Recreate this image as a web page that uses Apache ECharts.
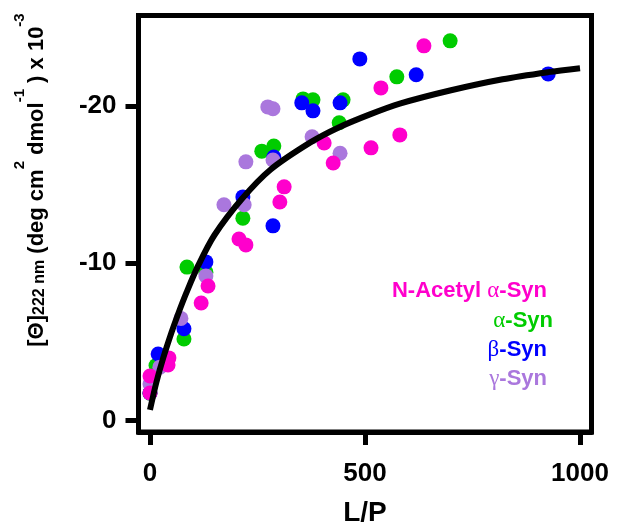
<!DOCTYPE html>
<html>
<head>
<meta charset="utf-8">
<script src="https://cdn.jsdelivr.net/npm/echarts@6/dist/echarts.min.js"></script>
<style>
html,body{margin:0;padding:0;background:#fff;}
#c{width:617px;height:525px;}
</style>
</head>
<body>
<div id="c"></div>
<script>
// ---- data ----
const xTicks = [0, 500, 1000];
const yTicks = [0, -10, -20];

const acetylLP    = [0, 0, 44, 42, 119, 135, 207, 223, 302, 312, 405, 426, 514, 537, 581, 637];
const acetylTheta = [-2.84, -1.76, -3.99, -3.54, -7.48, -8.56, -11.55, -11.17, -13.9, -14.86, -17.65, -16.38, -17.34, -21.15, -18.16, -23.82];

const alphaLP    = [0, 14, 79, 86, 130, 216, 260, 288, 356, 379, 449, 440, 574, 698];
const alphaTheta = [-1.75, -3.5, -5.19, -9.76, -9.44, -12.87, -17.13, -17.46, -20.45, -20.39, -20.39, -18.93, -21.85, -24.14];

const betaLP    = [0, 19, 79, 130, 216, 286, 288, 353, 379, 442, 488, 619, 926];
const betaTheta = [-1.76, -4.24, -5.84, -10.09, -14.22, -12.38, -16.75, -20.2, -19.69, -20.2, -22.99, -21.98, -22.04];

const gammaLP    = [0, 23, 72, 130, 172, 219, 223, 274, 286, 286, 377, 442];
const gammaTheta = [-2.33, -3.4, -6.5, -9.2, -13.72, -13.72, -16.45, -19.94, -19.82, -16.57, -18.04, -17.0];

// fitted curve, points
const curveLP    = [0, 15, 31, 50, 65, 85, 112, 150, 214, 280, 374, 440, 510, 581, 700, 820, 926, 1000];
const curveTheta = [-0.68, -2.45, -4.0, -5.6, -6.75, -8.15, -9.85, -11.8, -14.1, -15.95, -17.7, -18.65, -19.45, -20.15, -21.0, -21.7, -22.15, -22.4];

// legend labels: [prefix, greek letter, suffix]
const legendParts = [['N-Acetyl ', 'α', '-Syn'], ['', 'α', '-Syn'], ['', 'β', '-Syn'], ['', 'γ', '-Syn']];
const seriesNames = legendParts.map(p => p.join(''));
const yTitleParts = ['[Θ]', '222 nm', ' (deg cm', '2', ' dmol', '-1', ' ) x 10', '-3'];

// ---- build ----
const pair = (xs, ys) => xs.map((x, i) => [x, ys[i]]);
const FONT = '"Liberation Sans", Arial, sans-serif';
const SERIF = '"Liberation Serif", "DejaVu Serif", serif';
const colors = { acetyl: '#FF00CC', alpha: '#00CC00', beta: '#0000FF', gamma: '#AA77DD' };

const chart = echarts.init(document.getElementById('c'), null, { renderer: 'canvas' });

function scatter(name, data, color) {
  return {
    name: name, type: 'scatter', data: data, symbol: 'circle', symbolSize: 15,
    itemStyle: { color: color, opacity: 1 }, silent: true
  };
}

const yTitle = '{b|' + yTitleParts[0] + '}{sub|' + yTitleParts[1] + '}{b|' + yTitleParts[2] + '}{sup|' + yTitleParts[3] +
  '}{b|' + yTitleParts[4] + '}{sup|' + yTitleParts[5] + '}{b|' + yTitleParts[6] + '}{sup|' + yTitleParts[7] + '}';

const legendY = [291, 321, 350, 379];
const legendX = [547, 553, 547, 547];
const legendColors = [colors.acetyl, colors.alpha, colors.beta, colors.gamma];

function legendText(i) {
  const c = legendColors[i];
  const p = legendParts[i];
  return {
    type: 'text', x: legendX[i], y: legendY[i], silent: true,
    style: {
      text: (p[0] ? '{t|' + p[0] + '}' : '') + '{g|' + p[1] + '}{t|' + p[2] + '}',
      align: 'right', verticalAlign: 'middle', textAlign: 'right', textVerticalAlign: 'middle',
      fill: c,
      rich: {
        t: { fontSize: 22, fontWeight: 'bold', fontFamily: FONT, fill: c, color: c, lineHeight: 26 },
        g: { fontSize: 23, fontWeight: 'normal', fontFamily: SERIF, fill: c, color: c, lineHeight: 26 }
      }
    }
  };
}

const option = {
  animation: false,
  backgroundColor: '#fff',
  grid: {
    left: 138.5, right: 25.5, top: 15.5, bottom: 93,
    outerBoundsMode: 'none', containLabel: false,
    show: true, borderColor: '#000', borderWidth: 5, backgroundColor: 'transparent'
  },
  xAxis: {
    type: 'value', min: -26.7, max: 1026.7,
    splitLine: { show: false },
    axisLine: { show: true, onZero: false, lineStyle: { color: '#000', width: 5 } },
    axisTick: { show: true, customValues: xTicks, length: 13, lineStyle: { color: '#000', width: 5 } },
    axisLabel: { customValues: xTicks, formatter: v => String(v), margin: 29, fontSize: 26, fontWeight: 'bold', color: '#000', fontFamily: FONT },
    name: 'L/P', nameLocation: 'middle', nameGap: 67,
    nameTextStyle: { fontSize: 28, fontWeight: 'bold', color: '#000', fontFamily: FONT }
  },
  yAxis: {
    type: 'value', inverse: true, min: -25.75, max: 0.72,
    splitLine: { show: false },
    axisLine: { show: true, onZero: false, lineStyle: { color: '#000', width: 5 } },
    axisTick: { show: true, customValues: yTicks, length: 13, lineStyle: { color: '#000', width: 5 } },
    axisLabel: { customValues: yTicks, formatter: v => String(v), margin: 22, fontSize: 26, fontWeight: 'bold', color: '#000', fontFamily: FONT }
  },
  graphic: [
    {
      type: 'text', x: 30, y: 180, rotation: Math.PI / 2, silent: true,
      style: {
        text: yTitle, align: 'center', verticalAlign: 'middle', textAlign: 'center', textVerticalAlign: 'middle',
        fill: '#000',
        rich: {
          b: { fontSize: 22, fontWeight: 'bold', fontFamily: FONT, fill: '#000', color: '#000', lineHeight: 22, verticalAlign: 'bottom' },
          sub: { fontSize: 16, fontWeight: 'bold', fontFamily: FONT, fill: '#000', color: '#000', lineHeight: 16, verticalAlign: 'bottom' },
          sup: { fontSize: 15, fontWeight: 'bold', fontFamily: FONT, fill: '#000', color: '#000', lineHeight: 35, verticalAlign: 'top' }
        }
      }
    }
  ].concat(seriesNames.map((n, i) => legendText(i))),
  series: [
    scatter(seriesNames[1], pair(alphaLP, alphaTheta), colors.alpha),
    scatter(seriesNames[2], pair(betaLP, betaTheta), colors.beta),
    scatter(seriesNames[3], pair(gammaLP, gammaTheta), colors.gamma),
    scatter(seriesNames[0], pair(acetylLP, acetylTheta), colors.acetyl),
    {
      name: 'fit', type: 'line', data: pair(curveLP, curveTheta), smooth: 0.3, symbol: 'none',
      lineStyle: { color: '#000', width: 6 }, z: 5, silent: true
    }
  ]
};
chart.setOption(option);
</script>
</body>
</html>
